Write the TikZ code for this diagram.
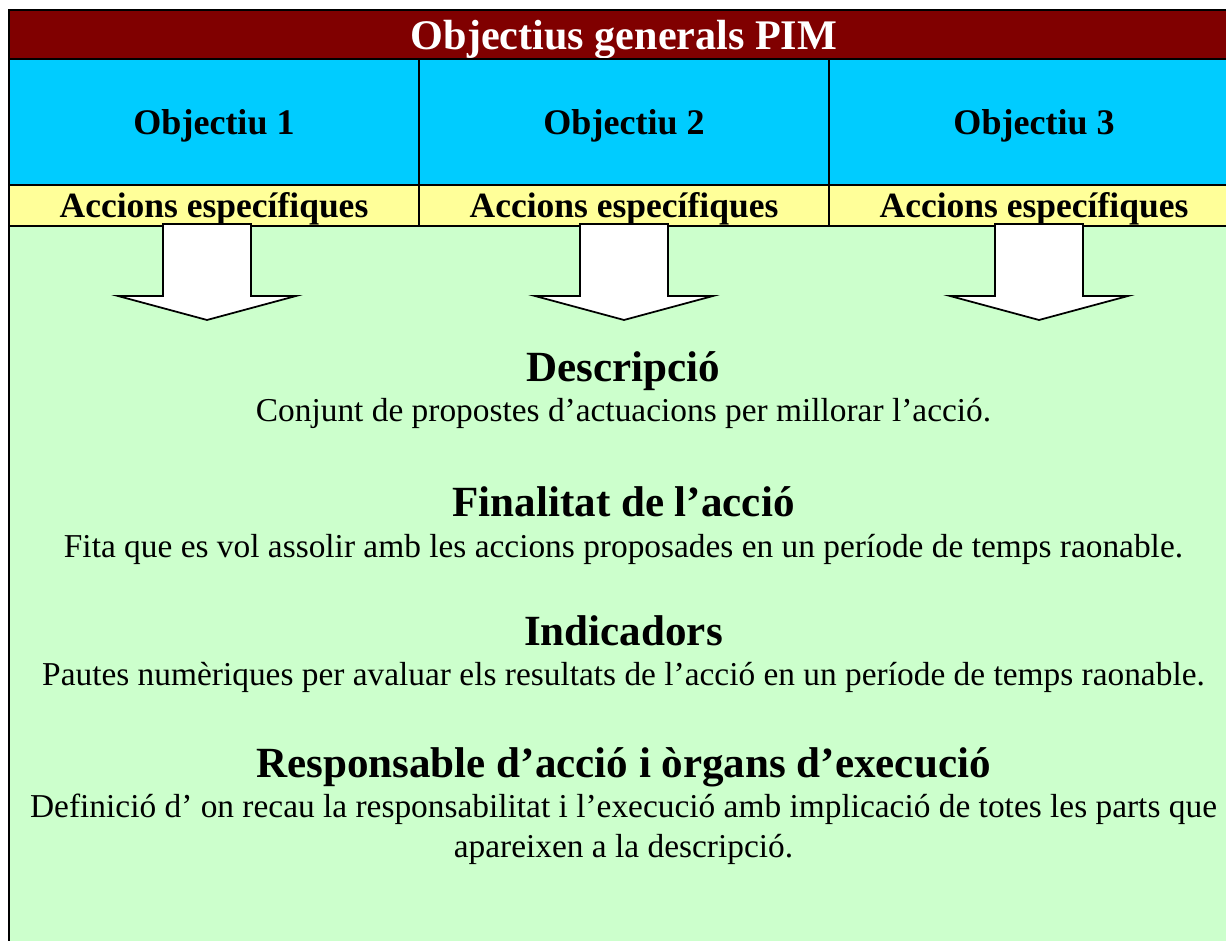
\documentclass[tikz,border=0pt]{standalone}
\usepackage{fontspec}
\setmainfont{Liberation Serif}
\usetikzlibrary{positioning}

\definecolor{pimred}{RGB}{128,0,0}
\definecolor{pimblue}{RGB}{0,204,255}
\definecolor{pimyellow}{RGB}{255,255,153}
\definecolor{pimgreen}{RGB}{204,255,204}

\begin{document}
\begin{tikzpicture}[
    titlebox/.style={draw=black, line width=1.1pt, fill=pimred, text=white, font=\fontsize{24}{28}\selectfont\bfseries, minimum width=24.6cm, minimum height=0.98cm, inner sep=0pt, outer sep=0pt, text depth=0pt},
    objbox/.style={draw=black, line width=1.1pt, fill=pimblue, font=\fontsize{20.5}{24}\selectfont\bfseries, minimum width=8.2cm, minimum height=2.52cm, inner sep=0pt, outer sep=0pt, text depth=0pt},
    accbox/.style={draw=black, line width=1.1pt, fill=pimyellow, font=\fontsize{20.2}{24}\selectfont\bfseries, minimum width=8.2cm, minimum height=0.82cm, inner sep=0pt, outer sep=0pt, text depth=0pt},
    headtext/.style={font=\fontsize{24.5}{28}\selectfont\bfseries, anchor=base},
    bodytext/.style={font=\fontsize{19}{22.8}\selectfont, anchor=base, align=center},
    downarrow/.style={draw=black, line width=1pt, fill=white, line join=miter}
]
    \clip (0,0) rectangle (24.52,18.8);

    % Zona verda de la descripció
    \draw[draw=black, line width=1.1pt, fill=pimgreen] (0.18,-1) rectangle (24.78,14.28);

    % Capçalera
    \node[titlebox] (title) at (12.48, 18.11) {Objectius generals PIM};

    % Objectius
    \node[objbox] (obj1) at (4.28, 16.36) {Objectiu 1};
    \node[objbox] (obj2) at (12.48, 16.36) {Objectiu 2};
    \node[objbox] (obj3) at (20.68, 16.36) {Objectiu 3};

    % Accions específiques
    \node[accbox] (acc1) at (4.28, 14.69) {Accions específiques};
    \node[accbox] (acc2) at (12.48, 14.69) {Accions específiques};
    \node[accbox] (acc3) at (20.68, 14.69) {Accions específiques};

    % Fletxes cap avall
    \foreach \col/\dx in {acc1/-0.14, acc2/0, acc3/0.1} {
        \draw[downarrow, shift={(\col.south)}, xshift=\dx cm]
            (-0.88,0.04) -- (0.88,0.04) -- (0.88,-1.4) -- (1.78,-1.4)
            -- (0,-1.88) -- (-1.78,-1.4) -- (-0.88,-1.4) -- cycle;
    }

    % Textos
    \node[headtext] (desc) at (12.47, 11.16) {Descripció};
    \node[bodytext] (desctxt) at (12.47, 10.36) {Conjunt de propostes d’actuacions per millorar l’acció.};

    \node[headtext] (fin) at (12.47, 8.46) {Finalitat de l’acció};
    \node[bodytext] (fintxt) at (12.47, 7.64) {Fita que es vol assolir amb les accions proposades en un període de temps raonable.};

    \node[headtext] (ind) at (12.47, 5.88) {Indicadors};
    \node[bodytext] (indtxt) at (12.47, 5.08) {Pautes numèriques per avaluar els resultats de l’acció en un període de temps raonable.};

    \node[headtext] (resp) at (12.47, 3.24) {Responsable d’acció i òrgans d’execució};
    % base = última línia
    \node[bodytext] (resptxt) at (12.47, 1.64) {Definició d’ on recau la responsabilitat i l’execució amb implicació de totes les parts que\\ apareixen a la descripció.};

\end{tikzpicture}
\end{document}
